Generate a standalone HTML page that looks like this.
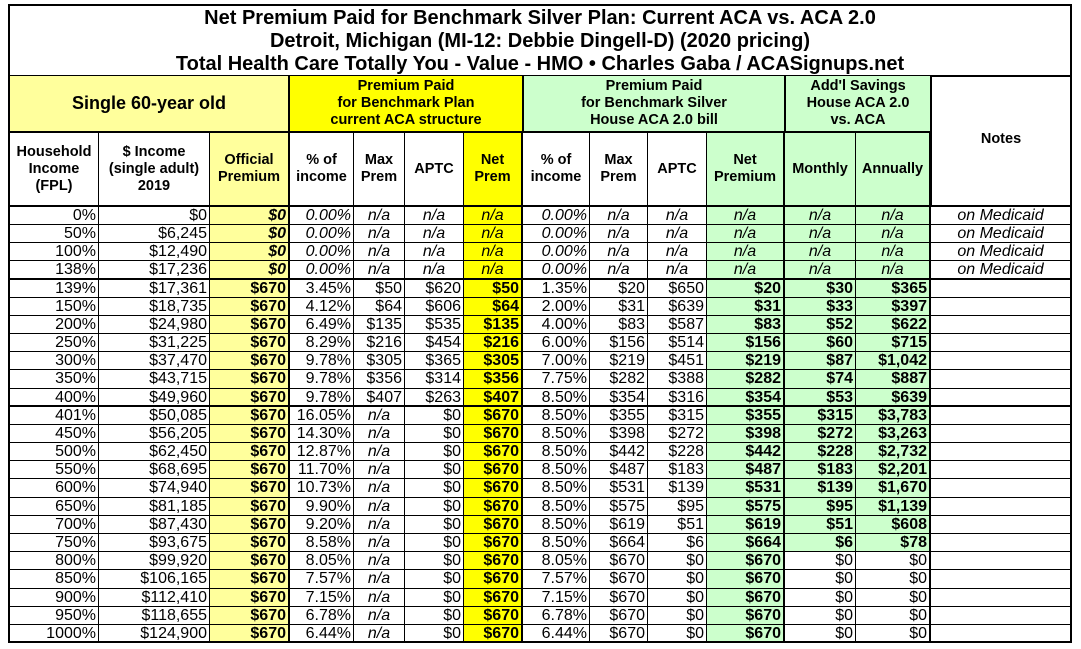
<!DOCTYPE html>
<html><head><meta charset="utf-8">
<style>
html,body{margin:0;padding:0;background:#fff;width:1081px;height:649px;overflow:hidden}
*{box-sizing:border-box}
body{font-family:"Liberation Sans",Arial,sans-serif;color:#000}
.title{position:absolute;left:8px;top:4px;width:1064px;height:73px;border:2px solid #000;text-align:center;font-weight:bold;font-size:20px;line-height:23px;padding-top:1px}
.r{position:absolute;left:8px;width:1064px;display:flex;border-left:2px solid #000;border-bottom:1px solid #000}
.r>div{border-right:1px solid #000;overflow:hidden;white-space:nowrap;flex:none}
.d{height:18px;font-size:16px;line-height:17px}
.d>div{text-align:right;padding:0 2px}
.r>div:nth-child(1){width:89px}
.r>div:nth-child(2){width:111px}
.r>div:nth-child(3){width:80px;border-right:2px solid #000}
.r>div:nth-child(4){width:64px}
.r>div:nth-child(5){width:51px}
.r>div:nth-child(6){width:59px}
.r>div:nth-child(7){width:59px;border-right:2px solid #000}
.r>div:nth-child(8){width:67px}
.r>div:nth-child(9){width:58px}
.r>div:nth-child(10){width:59px}
.r>div:nth-child(11){width:78px;border-right:2px solid #000}
.r>div:nth-child(12){width:71px}
.r>div:nth-child(13){width:75px;border-right:2px solid #000}
.r>div:nth-child(14){width:141px;border-right:2px solid #000}
.g{top:76px;height:57px;border-bottom:2px solid #000;font-weight:bold;font-size:14.5px;line-height:17px;text-align:center}
.g>div{display:flex;align-items:center;justify-content:center;border-right:2px solid #000!important}
.g>div:nth-child(1){width:280px!important;font-size:18px}
.g>div:nth-child(2){width:234px!important}
.g>div:nth-child(3){width:262px!important}
.g>div:nth-child(4){width:146px!important}
.h{top:133px;height:74px;border-bottom:2px solid #000;font-weight:bold;font-size:14.5px;line-height:17px;text-align:center}
.h>div{display:flex;align-items:center;justify-content:center}
.notes{position:absolute;left:931px;top:75px;width:141px;height:132px;border:2px solid #000;border-left:1px solid #000;font-weight:bold;font-size:14.5px;text-align:center;padding-top:54px;background:#fff}
.ly{background:#ffff9c}.by{background:#ffff00}.gr{background:#ccffcc}
.b{font-weight:bold}.i{font-style:italic}.d>.c{text-align:center}
.tb{border-bottom:2px solid #000}
.h19{height:19px}
</style></head><body>
<div class="title">Net Premium Paid for Benchmark Silver Plan: Current ACA vs. ACA 2.0<br>Detroit, Michigan (MI-12: Debbie Dingell-D) (2020 pricing)<br>Total Health Care Totally You - Value - HMO • Charles Gaba / ACASignups.net</div>
<div class="r g"><div class="ly">Single 60-year old</div><div class="by">Premium Paid<br>for Benchmark Plan<br>current ACA structure</div><div class="gr">Premium Paid<br>for Benchmark Silver<br>House ACA 2.0 bill</div><div class="gr">Add'l Savings<br>House ACA 2.0<br>vs. ACA</div></div>
<div class="r h"><div>Household<br>Income<br>(FPL)</div><div>$ Income<br>(single adult)<br>2019</div><div class="ly">Official<br>Premium</div><div>% of<br>income</div><div>Max<br>Prem</div><div>APTC</div><div class="by">Net<br>Prem</div><div>% of<br>income</div><div>Max<br>Prem</div><div>APTC</div><div class="gr">Net<br>Premium</div><div class="gr">Monthly</div><div class="gr">Annually</div></div>
<div class="notes">Notes</div>

<div class="r d" style="top:207px"><div>0%</div><div>$0</div><div class="ly b i">$0</div><div class="i">0.00%</div><div class="i c">n/a</div><div class="i c">n/a</div><div class="by i c">n/a</div><div class="i">0.00%</div><div class="i c">n/a</div><div class="i c">n/a</div><div class="gr i c">n/a</div><div class="gr i c">n/a</div><div class="gr i c">n/a</div><div class="i c">on Medicaid</div></div>
<div class="r d" style="top:225px"><div>50%</div><div>$6,245</div><div class="ly b i">$0</div><div class="i">0.00%</div><div class="i c">n/a</div><div class="i c">n/a</div><div class="by i c">n/a</div><div class="i">0.00%</div><div class="i c">n/a</div><div class="i c">n/a</div><div class="gr i c">n/a</div><div class="gr i c">n/a</div><div class="gr i c">n/a</div><div class="i c">on Medicaid</div></div>
<div class="r d" style="top:243px"><div>100%</div><div>$12,490</div><div class="ly b i">$0</div><div class="i">0.00%</div><div class="i c">n/a</div><div class="i c">n/a</div><div class="by i c">n/a</div><div class="i">0.00%</div><div class="i c">n/a</div><div class="i c">n/a</div><div class="gr i c">n/a</div><div class="gr i c">n/a</div><div class="gr i c">n/a</div><div class="i c">on Medicaid</div></div>
<div class="r d tb h19" style="top:261px"><div>138%</div><div>$17,236</div><div class="ly b i">$0</div><div class="i">0.00%</div><div class="i c">n/a</div><div class="i c">n/a</div><div class="by i c">n/a</div><div class="i">0.00%</div><div class="i c">n/a</div><div class="i c">n/a</div><div class="gr i c">n/a</div><div class="gr i c">n/a</div><div class="gr i c">n/a</div><div class="i c">on Medicaid</div></div>
<div class="r d" style="top:280px"><div>139%</div><div>$17,361</div><div class="ly b">$670</div><div>3.45%</div><div>$50</div><div>$620</div><div class="by b">$50</div><div>1.35%</div><div>$20</div><div>$650</div><div class="gr b">$20</div><div class="gr b">$30</div><div class="gr b">$365</div><div></div></div>
<div class="r d" style="top:298px"><div>150%</div><div>$18,735</div><div class="ly b">$670</div><div>4.12%</div><div>$64</div><div>$606</div><div class="by b">$64</div><div>2.00%</div><div>$31</div><div>$639</div><div class="gr b">$31</div><div class="gr b">$33</div><div class="gr b">$397</div><div></div></div>
<div class="r d" style="top:316px"><div>200%</div><div>$24,980</div><div class="ly b">$670</div><div>6.49%</div><div>$135</div><div>$535</div><div class="by b">$135</div><div>4.00%</div><div>$83</div><div>$587</div><div class="gr b">$83</div><div class="gr b">$52</div><div class="gr b">$622</div><div></div></div>
<div class="r d" style="top:334px"><div>250%</div><div>$31,225</div><div class="ly b">$670</div><div>8.29%</div><div>$216</div><div>$454</div><div class="by b">$216</div><div>6.00%</div><div>$156</div><div>$514</div><div class="gr b">$156</div><div class="gr b">$60</div><div class="gr b">$715</div><div></div></div>
<div class="r d" style="top:352px"><div>300%</div><div>$37,470</div><div class="ly b">$670</div><div>9.78%</div><div>$305</div><div>$365</div><div class="by b">$305</div><div>7.00%</div><div>$219</div><div>$451</div><div class="gr b">$219</div><div class="gr b">$87</div><div class="gr b">$1,042</div><div></div></div>
<div class="r d h19" style="top:370px"><div>350%</div><div>$43,715</div><div class="ly b">$670</div><div>9.78%</div><div>$356</div><div>$314</div><div class="by b">$356</div><div>7.75%</div><div>$282</div><div>$388</div><div class="gr b">$282</div><div class="gr b">$74</div><div class="gr b">$887</div><div></div></div>
<div class="r d tb" style="top:389px"><div>400%</div><div>$49,960</div><div class="ly b">$670</div><div>9.78%</div><div>$407</div><div>$263</div><div class="by b">$407</div><div>8.50%</div><div>$354</div><div>$316</div><div class="gr b">$354</div><div class="gr b">$53</div><div class="gr b">$639</div><div></div></div>
<div class="r d" style="top:407px"><div>401%</div><div>$50,085</div><div class="ly b">$670</div><div>16.05%</div><div class="i c">n/a</div><div>$0</div><div class="by b">$670</div><div>8.50%</div><div>$355</div><div>$315</div><div class="gr b">$355</div><div class="gr b">$315</div><div class="gr b">$3,783</div><div></div></div>
<div class="r d" style="top:425px"><div>450%</div><div>$56,205</div><div class="ly b">$670</div><div>14.30%</div><div class="i c">n/a</div><div>$0</div><div class="by b">$670</div><div>8.50%</div><div>$398</div><div>$272</div><div class="gr b">$398</div><div class="gr b">$272</div><div class="gr b">$3,263</div><div></div></div>
<div class="r d" style="top:443px"><div>500%</div><div>$62,450</div><div class="ly b">$670</div><div>12.87%</div><div class="i c">n/a</div><div>$0</div><div class="by b">$670</div><div>8.50%</div><div>$442</div><div>$228</div><div class="gr b">$442</div><div class="gr b">$228</div><div class="gr b">$2,732</div><div></div></div>
<div class="r d" style="top:461px"><div>550%</div><div>$68,695</div><div class="ly b">$670</div><div>11.70%</div><div class="i c">n/a</div><div>$0</div><div class="by b">$670</div><div>8.50%</div><div>$487</div><div>$183</div><div class="gr b">$487</div><div class="gr b">$183</div><div class="gr b">$2,201</div><div></div></div>
<div class="r d h19" style="top:479px"><div>600%</div><div>$74,940</div><div class="ly b">$670</div><div>10.73%</div><div class="i c">n/a</div><div>$0</div><div class="by b">$670</div><div>8.50%</div><div>$531</div><div>$139</div><div class="gr b">$531</div><div class="gr b">$139</div><div class="gr b">$1,670</div><div></div></div>
<div class="r d" style="top:498px"><div>650%</div><div>$81,185</div><div class="ly b">$670</div><div>9.90%</div><div class="i c">n/a</div><div>$0</div><div class="by b">$670</div><div>8.50%</div><div>$575</div><div>$95</div><div class="gr b">$575</div><div class="gr b">$95</div><div class="gr b">$1,139</div><div></div></div>
<div class="r d" style="top:516px"><div>700%</div><div>$87,430</div><div class="ly b">$670</div><div>9.20%</div><div class="i c">n/a</div><div>$0</div><div class="by b">$670</div><div>8.50%</div><div>$619</div><div>$51</div><div class="gr b">$619</div><div class="gr b">$51</div><div class="gr b">$608</div><div></div></div>
<div class="r d" style="top:534px"><div>750%</div><div>$93,675</div><div class="ly b">$670</div><div>8.58%</div><div class="i c">n/a</div><div>$0</div><div class="by b">$670</div><div>8.50%</div><div>$664</div><div>$6</div><div class="gr b">$664</div><div class="gr b">$6</div><div class="gr b">$78</div><div></div></div>
<div class="r d" style="top:552px"><div>800%</div><div>$99,920</div><div class="ly b">$670</div><div>8.05%</div><div class="i c">n/a</div><div>$0</div><div class="by b">$670</div><div>8.05%</div><div>$670</div><div>$0</div><div class="gr b">$670</div><div>$0</div><div>$0</div><div></div></div>
<div class="r d h19" style="top:570px"><div>850%</div><div>$106,165</div><div class="ly b">$670</div><div>7.57%</div><div class="i c">n/a</div><div>$0</div><div class="by b">$670</div><div>7.57%</div><div>$670</div><div>$0</div><div class="gr b">$670</div><div>$0</div><div>$0</div><div></div></div>
<div class="r d" style="top:589px"><div>900%</div><div>$112,410</div><div class="ly b">$670</div><div>7.15%</div><div class="i c">n/a</div><div>$0</div><div class="by b">$670</div><div>7.15%</div><div>$670</div><div>$0</div><div class="gr b">$670</div><div>$0</div><div>$0</div><div></div></div>
<div class="r d" style="top:607px"><div>950%</div><div>$118,655</div><div class="ly b">$670</div><div>6.78%</div><div class="i c">n/a</div><div>$0</div><div class="by b">$670</div><div>6.78%</div><div>$670</div><div>$0</div><div class="gr b">$670</div><div>$0</div><div>$0</div><div></div></div>
<div class="r d tb" style="top:625px"><div>1000%</div><div>$124,900</div><div class="ly b">$670</div><div>6.44%</div><div class="i c">n/a</div><div>$0</div><div class="by b">$670</div><div>6.44%</div><div>$670</div><div>$0</div><div class="gr b">$670</div><div>$0</div><div>$0</div><div></div></div>
</body></html>
